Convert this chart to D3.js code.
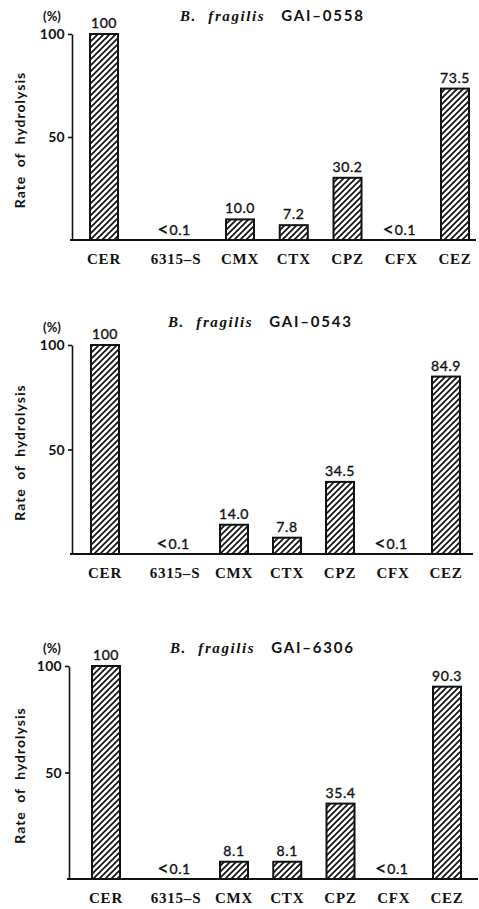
<!DOCTYPE html>
<html>
<head>
<meta charset="utf-8">
<script src="https://cdn.jsdelivr.net/npm/d3@7"></script>
<style>
  html, body { margin: 0; padding: 0; background: #fff; }
  svg { display: block; }
  .num { font-family: Lato, "Open Sans", sans-serif; fill: #111; }
  .cat { font-family: "Liberation Serif", "DejaVu Serif", serif; font-weight: bold; fill: #111; }
</style>
</head>
<body>
<svg id="chart" width="479" height="909"></svg>
<script>
// Drug names on the x axis
const categories = ["CER", "6315\u2013S", "CMX", "CTX", "CPZ", "CFX", "CEZ"];
// Strains, one panel each
const species = "B. fragilis";
const strains = ["GAI\u20130558", "GAI\u20130543", "GAI\u20136306"];
// Relative rate of hydrolysis (%); null = below detection (<0.1)
const rates0558 = [100, null, 10.0, 7.2, 30.2, null, 73.5];
const rates0543 = [100, null, 14.0, 7.8, 34.5, null, 84.9];
const rates6306 = [100, null, 8.1, 8.1, 35.4, null, 90.3];
const belowLimit = "0.1";
const yTicks = [50, 100];
const yLabel = "Rate of hydrolysis";

const series = [rates0558, rates0543, rates6306];

// Panel geometry (pixel layout)
const panels = [
  { top: 34,  base: 240, axisX: 72, xs: [104, 176, 240, 455], lineEnd: 476, titleY: 21,  titleX: 180 },
  { top: 345, base: 554, axisX: 72, xs: [105, 175, 234, 446], lineEnd: 473, titleY: 327, titleX: 168 },
  { top: 666, base: 879, axisX: 69, xs: [106, 176, 234, 447], lineEnd: 478, titleY: 653, titleX: 170 }
];

const svg = d3.select("#chart");
const defs = svg.append("defs");
const pat = defs.append("pattern")
  .attr("id", "hatch")
  .attr("patternUnits", "userSpaceOnUse")
  .attr("width", 6).attr("height", 6);
pat.append("rect").attr("width", 6).attr("height", 6).attr("fill", "#fff");
pat.append("path")
  .attr("d", "M-1.5,1.5 L1.5,-1.5 M0,6 L6,0 M4.5,7.5 L7.5,4.5")
  .attr("stroke", "#111").attr("stroke-width", 1.7);

const barW = 28;
const fmt1 = d3.format(".1f");
const fmtInt = d3.format("d");

panels.forEach((p, i) => {
  const values = series[i];
  const g = svg.append("g");

  const y = d3.scaleLinear().domain([0, 100]).range([p.base, p.top]);
  // category index -> bar centre
  const x = d3.scaleLinear().domain([0, 1, 2, 6]).range(p.xs);

  // y axis
  const axis = d3.axisLeft(y).tickValues(yTicks).tickSize(4).tickSizeOuter(0).tickFormat(fmtInt);
  const ax = g.append("g").attr("transform", `translate(${p.axisX},0)`).call(axis);
  ax.select(".domain").attr("stroke", "#111").attr("stroke-width", 1.6);
  ax.selectAll(".tick line").attr("stroke", "#111").attr("stroke-width", 1.6);
  ax.selectAll(".tick text")
    .attr("class", "num")
    .attr("x", -7)
    .attr("dy", "0.35em")
    .style("font-size", "14px")
    .style("font-weight", "bold")
    .style("letter-spacing", "0.3px");

  // baseline
  g.append("line")
    .attr("x1", p.axisX - 2).attr("x2", p.lineEnd)
    .attr("y1", y(0)).attr("y2", y(0))
    .attr("stroke", "#111").attr("stroke-width", 2);

  // (%) unit
  g.append("text").attr("class", "num")
    .attr("x", 52).attr("y", y(100) - 13)
    .attr("text-anchor", "middle")
    .style("font-size", "13px").style("font-weight", "bold")
    .text("(%)");

  // y label
  g.append("text").attr("class", "num")
    .attr("transform", `translate(25,${(y(0) + y(100)) / 2 + 3}) rotate(-90)`)
    .attr("text-anchor", "middle")
    .style("font-size", "14px").style("font-weight", "bold")
    .style("letter-spacing", "1px").style("word-spacing", "4px")
    .text(yLabel);

  // title
  const t = g.append("text").attr("x", p.titleX).attr("y", p.titleY);
  t.append("tspan")
    .attr("class", "cat")
    .style("font-style", "italic").style("font-size", "15px")
    .style("letter-spacing", "1.6px").style("word-spacing", "6px")
    .text(species);
  t.append("tspan")
    .attr("class", "num")
    .attr("dx", 16)
    .style("font-size", "15px").style("font-weight", "bold")
    .style("letter-spacing", "1.8px")
    .text(strains[i]);

  const data = categories.map((c, k) => ({ c, k, v: values[k] }));

  // bars
  g.selectAll("rect.bar").data(data.filter(d => d.v != null)).join("rect")
    .attr("class", "bar")
    .attr("x", d => x(d.k) - barW / 2)
    .attr("y", d => y(d.v))
    .attr("width", barW)
    .attr("height", d => y(0) - y(d.v))
    .attr("fill", "url(#hatch)")
    .attr("stroke", "#111").attr("stroke-width", 2);

  // value labels
  const vl = g.selectAll("text.val").data(data).join("text")
    .attr("class", "val num")
    .attr("x", d => x(d.k) + (d.v == null ? -2 : 0))
    .attr("y", d => d.v == null ? y(0) - 5 : y(d.v) - 6)
    .attr("text-anchor", "middle")
    .attr("stroke", "#111").attr("stroke-width", 0.35)
    .style("font-size", "14px")
    .style("letter-spacing", "0.6px");
  vl.filter(d => d.v != null)
    .text(d => d.v >= 100 ? fmtInt(d.v) : fmt1(d.v));
  vl.filter(d => d.v == null).each(function () {
    const s = d3.select(this);
    s.append("tspan").style("font-size", "20px").attr("dy", 1).text("<");
    s.append("tspan").attr("dy", -1).text(belowLimit);
  });

  // category labels
  g.selectAll("text.catlab").data(data).join("text")
    .attr("class", "catlab cat")
    .attr("x", d => x(d.k))
    .attr("y", y(0) + 24)
    .attr("text-anchor", "middle")
    .style("font-size", "15px")
    .style("letter-spacing", "0.8px")
    .text(d => d.c);
});
</script>
</body>
</html>
